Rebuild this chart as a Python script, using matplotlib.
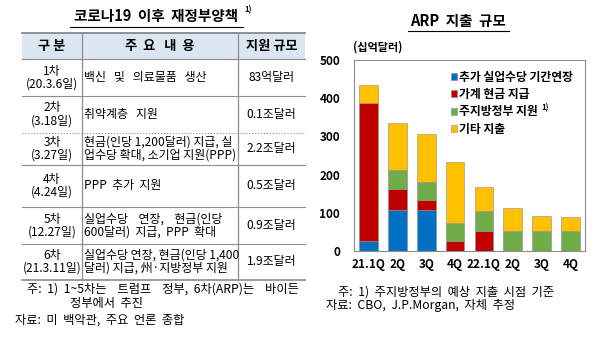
import matplotlib
matplotlib.use("Agg")
import matplotlib.pyplot as plt
from matplotlib.patches import Rectangle
from matplotlib.lines import Line2D
import numpy as np

plt.rcParams['font.family'] = ['Noto Sans CJK KR', 'DejaVu Sans']

# ---------------- data ----------------
quarters = ["21.1Q", "2Q", "3Q", "4Q", "22.1Q", "2Q", "3Q", "4Q"]
unemp = [27, 107, 107, 0, 0, 0, 0, 0]          # 추가 실업수당 기간연장
cash = [360, 55, 27, 26, 53, 0, 0, 0]          # 가계 현금 지급
state = [0, 49, 47, 46, 52, 52, 52, 52]        # 주지방정부 지원
other = [47, 125, 125, 160, 63, 61, 40, 36]    # 기타 지출
series_names = ["추가 실업수당 기간연장", "가계 현금 지급", "주지방정부 지원", "기타 지출"]
series_colors = ["#0070C0", "#C00000", "#70AD47", "#FFC000"]
yticks = [0, 100, 200, 300, 400, 500]

table_header = ["구 분", "주  요   내  용", "지원 규모"]
table_rounds = ["1차\n(20.3.6일)", "2차\n(3.18일)", "3차\n(3.27일)", "4차\n(4.24일)",
                "5차\n(12.27일)", "6차\n(21.3.11일)"]
table_contents = ["백신   및   의료물품   생산", "취약계층   지원",
                  "현금(인당 1,200달러) 지급, 실\n업수당 확대, 소기업 지원(PPP)",
                  "PPP  추가  지원",
                  "실업수당    연장,    현금(인당\n600달러)  지급,  PPP  확대",
                  "실업수당 연장, 현금(인당 1,400\n달러) 지급, 州·지방정부 지원"]
table_sizes = ["83억달러", "0.1조달러", "2.2조달러", "0.5조달러", "0.9조달러", "1.9조달러"]

W, H = 600, 338
fig = plt.figure(figsize=(W / 100, H / 100), dpi=100)

def fx(x):
    return x / W

def fy(y):
    return 1 - y / H

# ---------------- left table ----------------
tfs = 8.6
fig.text(fx(156), fy(16), "코로나19  이후  재정부양책", ha="center", va="center",
         fontsize=10.5, fontweight="bold")
fig.text(fx(244), fy(10), "1)", ha="left", va="center", fontsize=5.5, fontweight="bold")
fig.add_artist(Line2D([fx(70), fx(243)], [fy(27), fy(27)], color="black", lw=0.8))

x0, x1, x2, x3 = 22, 82, 238, 305
row_y = [33, 59, 96, 133, 165, 207, 244, 280]
fig.add_artist(Rectangle((fx(x0), fy(row_y[1])), fx(x3) - fx(x0), fy(row_y[0]) - fy(row_y[1]),
                         facecolor="#DCE6F2", edgecolor="none", transform=fig.transFigure))
fig.add_artist(Line2D([fx(x0), fx(x3)], [fy(row_y[0])] * 2, color="#7F7F7F", lw=1.2))
for i, yy in enumerate(row_y[1:], start=1):
    ls = ":" if i == 3 else "-"
    lw = 1.2 if i == len(row_y) - 1 else 0.8
    fig.add_artist(Line2D([fx(x0), fx(x3)], [fy(yy)] * 2, color="#8C8C8C", lw=lw, ls=ls))
for xx in (x1, x2):
    fig.add_artist(Line2D([fx(xx)] * 2, [fy(row_y[0]), fy(row_y[-1])], color="#8C8C8C", lw=0.9))

hy = (row_y[0] + row_y[1]) / 2
fig.text(fx((x0 + x1) / 2), fy(hy), table_header[0], ha="center", va="center", fontsize=9.5, fontweight="bold")
fig.text(fx((x1 + x2) / 2), fy(hy), table_header[1], ha="center", va="center", fontsize=9.5, fontweight="bold")
fig.text(fx((x2 + x3) / 2), fy(hy), table_header[2], ha="center", va="center", fontsize=9.5, fontweight="bold")

for i in range(6):
    cy = (row_y[i + 1] + row_y[i + 2]) / 2
    fig.text(fx((x0 + x1) / 2), fy(cy), table_rounds[i], ha="center", va="center",
             fontsize=tfs, linespacing=1.0)
    fig.text(fx(x1 + 2), fy(cy), table_contents[i], ha="left", va="center",
             fontsize=tfs, linespacing=1.0)
    fig.text(fx((x2 + x3) / 2), fy(cy), table_sizes[i], ha="center", va="center", fontsize=tfs)

nfs = 8.8
fig.text(fx(27), fy(289), "주:  1)  1~5차는    트럼프    정부,  6차(ARP)는    바이든", ha="left", va="center", fontsize=nfs)
fig.text(fx(70), fy(304), "정부에서  추진", ha="left", va="center", fontsize=nfs)
fig.text(fx(15), fy(320), "자료:  미  백악관,  주요  언론  종합", ha="left", va="center", fontsize=nfs)

# ---------------- right chart ----------------
ax = fig.add_axes([fx(354), fy(251), fx(585) - fx(354), fy(60) - fy(251)])
x = np.arange(len(quarters))
bw = 0.65
bottom = np.zeros(len(quarters))
handles = []
for vals, name, col in zip([unemp, cash, state, other], series_names, series_colors):
    vals = np.array(vals, dtype=float)
    b = ax.bar(x, vals, bw, bottom=bottom, color=col, edgecolor="#8C8C8C", linewidth=0.4, label=name)
    handles.append(b)
    bottom += vals

ax.set_xlim(-0.5, len(quarters) - 0.5)
ax.set_ylim(0, 500)
ax.set_yticks(yticks)
ax.set_yticklabels([str(t) for t in yticks], fontsize=8.5, fontweight="bold")
ax.set_xticks(x)
ax.set_xticklabels(quarters, fontsize=8.5, fontweight="bold")
ax.tick_params(length=0, pad=5)
ax.tick_params(axis="y", pad=10)
for s in ax.spines.values():
    s.set_color("#8C8C8C")
    s.set_linewidth(0.8)

leg = ax.legend(handles=handles, loc="upper left", bbox_to_anchor=(0.42, 0.945),
                frameon=False, fontsize=8.5, handlelength=0.5, handleheight=0.5,
                handletextpad=0.15, labelspacing=0.38, borderaxespad=0, borderpad=0)
for t in leg.get_texts():
    t.set_fontweight("bold")
fig.text(fx(541), fy(108), "1)", ha="left", va="center", fontsize=5.5, fontweight="bold")

fig.text(fx(458), fy(21), "ARP  지출  규모", ha="center", va="center", fontsize=10.5, fontweight="bold")
fig.add_artist(Line2D([fx(408), fx(509)], [fy(31), fy(31)], color="black", lw=0.8))
fig.text(fx(353), fy(47), "(십억달러)", ha="left", va="center", fontsize=8, fontweight="bold")

fig.text(fx(338), fy(292), "주:  1)  주지방정부의  예상  지출  시점  기준", ha="left", va="center", fontsize=nfs)
fig.text(fx(326), fy(306), "자료:  CBO,  J.P.Morgan,  자체  추정", ha="left", va="center", fontsize=nfs)

fig.savefig("out.png", dpi=100)
